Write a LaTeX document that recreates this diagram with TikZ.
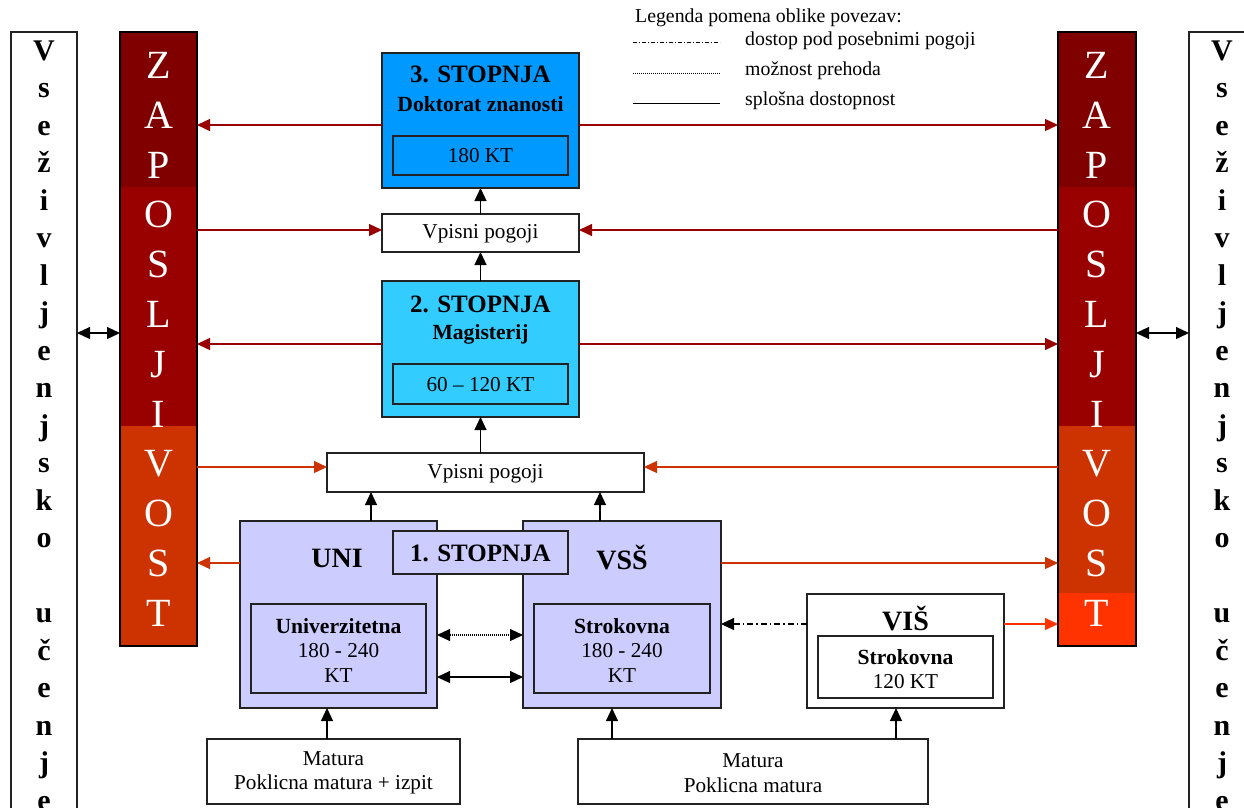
\documentclass[tikz,border=0pt]{standalone}
\usepackage{fontspec}
\setmainfont{Liberation Serif}
\usetikzlibrary{arrows.meta,calc}
\definecolor{cthree}{HTML}{0099FF}
\definecolor{ctwo}{HTML}{33CCFF}
\definecolor{cone}{HTML}{CCCCFF}
\definecolor{zdark}{HTML}{800000}
\definecolor{zred}{HTML}{990000}
\definecolor{zorange}{HTML}{CC3300}
\definecolor{zbright}{HTML}{FF3300}
\definecolor{bord}{HTML}{222222}
\tikzset{
  box/.style={draw=bord, line width=1.3pt, inner sep=0pt, outer sep=0pt},
  lbl/.style={inner sep=0pt, outer sep=0pt, align=center},
  tip/.style={-{Triangle[length=13pt,width=12pt]}},
  arr/.style={draw=black, line width=1.2pt, tip},
  darr/.style={draw=black, line width=1.2pt, {Triangle[length=13pt,width=12pt]}-{Triangle[length=13pt,width=12pt]}},
  rarr/.style={draw=zred, line width=1.3pt, tip},
  oarr/.style={draw=zorange, line width=1.3pt, tip},
  barr/.style={draw=zbright, line width=1.3pt, tip},
  zlet/.style={text=white, font=\fontsize{40}{40}\selectfont, inner sep=0pt, anchor=base},
  vlet/.style={font=\fontsize{30}{30}\selectfont\bfseries, inner sep=0pt, anchor=base},
  reg/.style={lbl, font=\fontsize{21.2}{24.5}\selectfont},
  bld/.style={lbl, font=\fontsize{21.6}{24.5}\selectfont\bfseries},
  big/.style={lbl, font=\fontsize{25}{28}\selectfont\bfseries},
  huge/.style={lbl, font=\fontsize{28}{30}\selectfont\bfseries},
  leg/.style={inner sep=0pt, anchor=west, font=\fontsize{19.8}{21}\selectfont},
}
\begin{document}
\begin{tikzpicture}[x=1pt,y=-1pt]
\useasboundingbox (0,0) rectangle (1244,807);
\clip (0,0) rectangle (1244,807);
\fill[white] (0,0) rectangle (1244,807);

% outer white columns
\node[box, minimum width=66, minimum height=798] (lw) at (44,431) {};
\node[box, minimum width=66, minimum height=798] (rw) at (1222,431) {};
\foreach \l [count=\i from 0] in {V,s,e,ž,i,v,l,j,e,n,j,s,k,o,{},u,č,e,n,j,e} {
  \node[vlet] (lwl\i) at (44,{60+37.5*\i}) {\l};
  \node[vlet] (rwl\i) at (1222,{60+37.5*\i}) {\l};
}

% ZAPOSLJIVOST columns
\fill[zdark] (120,32) rectangle (197,187);
\fill[zred] (120,187) rectangle (197,426);
\fill[zorange] (120,426) rectangle (197,646);
\fill[zdark] (1058,32) rectangle (1136,187);
\fill[zred] (1058,187) rectangle (1136,426);
\fill[zorange] (1058,426) rectangle (1136,593);
\fill[zbright] (1058,593) rectangle (1136,646);
\node[box, draw=black, minimum width=77, minimum height=614] (lc) at (158.5,339) {};
\node[box, draw=black, minimum width=78, minimum height=614] (rc) at (1097,339) {};
\foreach \l [count=\i from 0] in {Z,A,P,O,S,L,J,I,V,O,S,T} {
  \node[zlet] (lcl\i) at (158.5,{78.5+49.8*\i}) {\l};
  \node[zlet] (rcl\i) at (1097,{78.5+49.8*\i}) {\l};
}

% legend
\node[leg] (legh) at (635,18) {Legenda pomena oblike povezav:};
\coordinate (la1) at (633,42); \coordinate (lb1) at (720,42);
\coordinate (la2) at (633,73); \coordinate (lb2) at (720,73);
\coordinate (la3) at (633,103); \coordinate (lb3) at (720,103);
\draw[line width=0.8pt, dash pattern=on 4pt off 2pt on 1pt off 2pt] (la1) -- (lb1);
\draw[line width=0.8pt, dash pattern=on 0.8pt off 1.2pt] (la2) -- (lb2);
\draw[line width=1pt] (la3) -- (lb3);
\node[leg] (legt1) at (745,41) {dostop pod posebnimi pogoji};
\node[leg] (legt2) at (745,71) {možnost prehoda};
\node[leg] (legt3) at (745,101) {splošna dostopnost};

% 3. stopnja
\node[box, fill=cthree, minimum width=197, minimum height=135] (s3) at (480.5,120.5) {};
\node[box, fill=cthree, minimum width=175, minimum height=39] (s3in) at (480.5,155.5) {};
\node[reg] (s3kt) at (480.5,156) {180 KT};
\node[big] (s3t) at (480.5,74) {3. STOPNJA};
\node[bld] (s3d) at (480.5,104) {Doktorat znanosti};

% vpisni pogoji 1
\node[box, fill=white, minimum width=197, minimum height=38] (vp1) at (480.5,233) {};
\node[reg] (vp1t) at (480.5,234) {Vpisni pogoji};

% 2. stopnja
\node[box, fill=ctwo, minimum width=197, minimum height=136] (s2) at (480.5,349) {};
\node[box, fill=ctwo, minimum width=175, minimum height=40] (s2in) at (480.5,384) {};
\node[reg] (s2kt) at (480.5,385) {60 -- 120 KT};
\node[big] (s2t) at (480.5,304) {2. STOPNJA};
\node[bld] (s2d) at (480.5,334) {Magisterij};

% vpisni pogoji 2
\node[box, fill=white, minimum width=317, minimum height=39] (vp2) at (485.5,472.5) {};
\node[reg] (vp2t) at (485.5,473.5) {Vpisni pogoji};

% 1. stopnja
\node[box, fill=cone, minimum width=197, minimum height=187] (uni) at (338.5,614.5) {};
\node[box, fill=cone, minimum width=198, minimum height=187] (vss) at (622,614.5) {};
\node[box, fill=cone, minimum width=175, minimum height=43] (s1) at (480.5,552.5) {};
\node[big] (s1t) at (480.5,553.5) {1. STOPNJA};
\node[huge] (unit) at (337,558) {UNI};
\node[huge] (vsst) at (622,558) {VSŠ};
\node[box, minimum width=175, minimum height=89] (uniin) at (338.5,648.5) {};
\node[reg] (uniint) at (338.5,650) {\textbf{\fontsize{21.6}{24.5}\selectfont Univerzitetna}\\180 - 240\\KT};
\node[box, minimum width=176, minimum height=89] (vssin) at (622,648.5) {};
\node[reg] (vssint) at (622,650) {\textbf{\fontsize{21.6}{24.5}\selectfont Strokovna}\\180 - 240\\KT};

% VIS
\node[box, fill=white, minimum width=197, minimum height=114] (vis) at (905.5,651) {};
\node[huge] (vist) at (905.5,619) {VIŠ};
\node[box, minimum width=175, minimum height=62] (visin) at (905.5,667) {};
\node[reg] (visint) at (905.5,669) {\textbf{\fontsize{21.6}{24.5}\selectfont Strokovna}\\120 KT};

% matura boxes
\node[box, fill=white, minimum width=253, minimum height=65] (m1) at (333.5,771.5) {};
\node[reg] (m1t) at (333.5,773) {Matura\\Poklicna matura + izpit};
\node[box, fill=white, minimum width=350, minimum height=65] (m2) at (753,771.5) {};
\node[reg] (m2t) at (753,773) {Matura\\Poklicna matura};

% vertical arrows
\draw[arr] (vp1.north) -- (s3.south);
\draw[arr] (s2.north) -- (vp1.south);
\draw[arr] (vp2.north -| s2.south) -- (s2.south);
\draw[arr] ([xshift=32.5pt]uni.north) -- ([xshift=-114.5pt]vp2.south);
\draw[arr] ([xshift=-22pt]vss.north) -- ([xshift=114.5pt]vp2.south);
\draw[arr] ([xshift=-6.5pt]m1.north) -- ([xshift=-11.5pt]uni.south);
\draw[arr] ([xshift=-141pt]m2.north) -- ([xshift=-10pt]vss.south);
\draw[arr] ([xshift=143pt]m2.north) -- ([xshift=-9.5pt]vis.south);

% horizontal connectors between 1st-level boxes
\draw[darr, dash pattern=on 1pt off 1pt] ([yshift=-20.5pt]uni.east) -- ([yshift=-20.5pt]uni.east -| vss.west);
\draw[darr] ([yshift=-62.5pt]uni.east) -- ([yshift=-62.5pt]uni.east -| vss.west);
\draw[arr, dash pattern=on 6pt off 3pt on 1.5pt off 3pt] ([yshift=27pt]vis.west) -- ([yshift=27pt]vis.west -| vss.east);

% employment connectors
\draw[rarr] ([yshift=-4.5pt]s3.west) -- ([yshift=-4.5pt]s3.west -| lc.east);
\draw[rarr] ([yshift=-4.5pt]s3.east) -- ([yshift=-4.5pt]s3.east -| rc.west);
\draw[rarr] ([yshift=3pt]vp1.west -| lc.east) -- ([yshift=3pt]vp1.west);
\draw[rarr] ([yshift=3pt]vp1.east -| rc.west) -- ([yshift=3pt]vp1.east);
\draw[rarr] ([yshift=5pt]s2.west) -- ([yshift=5pt]s2.west -| lc.east);
\draw[rarr] ([yshift=5pt]s2.east) -- ([yshift=5pt]s2.east -| rc.west);
\draw[oarr] ([yshift=5.5pt]vp2.west -| lc.east) -- ([yshift=5.5pt]vp2.west);
\draw[oarr] ([yshift=5.5pt]vp2.east -| rc.west) -- ([yshift=5.5pt]vp2.east);
\draw[oarr] ([yshift=51.5pt]uni.west) -- ([yshift=51.5pt]uni.west -| lc.east);
\draw[oarr] ([yshift=51.5pt]vss.east) -- ([yshift=51.5pt]vss.east -| rc.west);
\draw[barr] ([yshift=27pt]vis.east) -- ([yshift=27pt]vis.east -| rc.west);

% lifelong learning links
\draw[darr] ([yshift=98pt]lw.east) -- ([yshift=98pt]lw.east -| lc.west);
\draw[darr] ([yshift=6pt]rc.east) -- ([yshift=6pt]rc.east -| rw.west);
\end{tikzpicture}
\end{document}
